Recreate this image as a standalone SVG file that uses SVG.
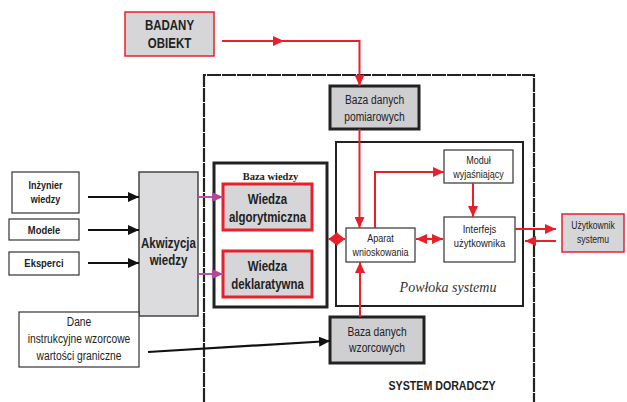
<svg xmlns="http://www.w3.org/2000/svg" width="627" height="402" viewBox="0 0 627 402">
  <defs>
    <style>
      .n { font-family: "Liberation Sans", Arial, sans-serif; fill: #222; text-anchor: middle; }
      .b { font-weight: bold; }
      .box { fill: #ffffff; stroke: #333; stroke-width: 1.2; }
      .redbox { fill: #d6d6d8; stroke: #e8202a; stroke-width: 1.5; }
      .thick { fill: #cfcfd2; stroke: #222; stroke-width: 3; }
      .red { fill: none; stroke: #e8202a; stroke-width: 2; }
      .blk { fill: none; stroke: #111; stroke-width: 2.2; }
      .mag { fill: none; stroke: #c050a8; stroke-width: 2; }
    </style>
    <marker id="ar" markerUnits="userSpaceOnUse" markerWidth="12" markerHeight="10" refX="11" refY="5" orient="auto">
      <path d="M0,0 L11,5 L0,10 Z" fill="#e8202a"/>
    </marker>
    <marker id="ars" markerUnits="userSpaceOnUse" markerWidth="12" markerHeight="10" refX="1" refY="5" orient="auto">
      <path d="M12,0 L1,5 L12,10 Z" fill="#e8202a"/>
    </marker>
    <marker id="arL" markerUnits="userSpaceOnUse" markerWidth="10" markerHeight="14" refX="9" refY="7" orient="auto">
      <path d="M0,0 L9,7 L0,14 Z" fill="#e8202a"/>
    </marker>
    <marker id="arLs" markerUnits="userSpaceOnUse" markerWidth="10" markerHeight="14" refX="1" refY="7" orient="auto">
      <path d="M10,0 L1,7 L10,14 Z" fill="#e8202a"/>
    </marker>
    <marker id="ab" markerUnits="userSpaceOnUse" markerWidth="12" markerHeight="10" refX="11" refY="5" orient="auto">
      <path d="M0,0 L11,5 L0,10 Z" fill="#111"/>
    </marker>
    <marker id="am" markerUnits="userSpaceOnUse" markerWidth="12" markerHeight="10" refX="11" refY="5" orient="auto">
      <path d="M0,0 L11,5 L0,10 Z" fill="#b04898"/>
    </marker>
  </defs>

  <rect width="627" height="402" fill="#ffffff"/>

  <!-- advisory system frame (open at the bottom) -->
  <g id="system-doradczy">
    <path d="M204,402 V75 H534 V402" fill="none" stroke="#222" stroke-width="2.2" stroke-dasharray="14,1"/>
    <text class="n b" transform="translate(442,390) scale(0.82,1)" font-size="13">SYSTEM DORADCZY</text>
  </g>

  <g id="badany-obiekt">
    <rect class="redbox" x="125" y="12" width="89" height="44"/>
    <text class="n b" transform="translate(169.5,30) scale(0.82,1)" font-size="14">BADANY</text>
    <text class="n b" transform="translate(169.5,48) scale(0.82,1)" font-size="14">OBIEKT</text>
  </g>

  <g id="baza-pomiarowych">
    <rect class="thick" x="330" y="86" width="89" height="43"/>
    <text class="n" transform="translate(374.5,104) scale(0.82,1)" font-size="12.5">Baza danych</text>
    <text class="n" transform="translate(374.5,121) scale(0.82,1)" font-size="12.5">pomiarowych</text>
  </g>

  <g id="inzynier-wiedzy">
    <rect class="box" x="12" y="172" width="67" height="41"/>
    <text class="n b" transform="translate(45.5,189) scale(0.82,1)" font-size="11">Inżynier</text>
    <text class="n b" transform="translate(45.5,203) scale(0.82,1)" font-size="11">wiedzy</text>
  </g>

  <g id="modele">
    <rect class="box" x="9" y="219" width="70" height="21"/>
    <text class="n b" transform="translate(44,234) scale(0.82,1)" font-size="11.5">Modele</text>
  </g>

  <g id="eksperci">
    <rect class="box" x="9" y="252" width="70" height="23"/>
    <text class="n b" transform="translate(44,267) scale(0.82,1)" font-size="11.5">Eksperci</text>
  </g>

  <g id="akwizycja-wiedzy">
    <rect x="139" y="172" width="59" height="144" fill="#dcdcde" stroke="#444" stroke-width="1.5"/>
    <text class="n b" transform="translate(168.5,248) scale(0.82,1)" font-size="14">Akwizycja</text>
    <text class="n b" transform="translate(168.5,265) scale(0.82,1)" font-size="14">wiedzy</text>
  </g>

  <g id="baza-wiedzy">
    <rect x="214" y="163" width="113" height="144" fill="#ffffff" stroke="#222" stroke-width="3"/>
    <text x="270.5" y="180" font-family="Liberation Serif, Times New Roman, serif" font-weight="bold" font-size="10.5" text-anchor="middle" fill="#222">Baza wiedzy</text>
  </g>

  <g id="wiedza-algorytmiczna">
    <rect x="223" y="184" width="89" height="46" fill="#d6d6d8" stroke="#e8202a" stroke-width="3"/>
    <text class="n b" transform="translate(267.5,204) scale(0.82,1)" font-size="14">Wiedza</text>
    <text class="n b" transform="translate(267.5,222) scale(0.82,1)" font-size="14">algorytmiczna</text>
  </g>

  <g id="wiedza-deklaratywna">
    <rect x="223" y="251" width="89" height="46" fill="#d6d6d8" stroke="#e8202a" stroke-width="3"/>
    <text class="n b" transform="translate(267.5,271) scale(0.82,1)" font-size="14">Wiedza</text>
    <text class="n b" transform="translate(267.5,289) scale(0.82,1)" font-size="14">deklaratywna</text>
  </g>

  <g id="powloka-systemu">
    <rect x="336" y="142" width="187" height="164" fill="none" stroke="#222" stroke-width="2"/>
    <text x="448" y="292" font-family="Liberation Serif, Times New Roman, serif" font-style="italic" font-size="14" text-anchor="middle" fill="#333">Powłoka systemu</text>
  </g>

  <g id="aparat-wnioskowania">
    <rect class="box" x="346" y="228" width="69" height="34"/>
    <text class="n" transform="translate(380.5,242) scale(0.82,1)" font-size="11">Aparat</text>
    <text class="n" transform="translate(380.5,256) scale(0.82,1)" font-size="11">wnioskowania</text>
  </g>

  <g id="modul-wyjasniajacy">
    <rect class="box" x="444" y="150" width="69" height="33"/>
    <text class="n" transform="translate(478.5,164) scale(0.82,1)" font-size="11">Moduł</text>
    <text class="n" transform="translate(478.5,178) scale(0.82,1)" font-size="11">wyjaśniający</text>
  </g>

  <g id="interfejs-uzytkownika">
    <rect class="box" x="444" y="217" width="71" height="45"/>
    <text class="n" transform="translate(479.5,233) scale(0.82,1)" font-size="11.5">Interfejs</text>
    <text class="n" transform="translate(479.5,247) scale(0.82,1)" font-size="11.5">użytkownika</text>
  </g>

  <g id="uzytkownik-systemu">
    <rect class="redbox" x="562" y="214" width="62" height="38"/>
    <text class="n" transform="translate(593,229) scale(0.82,1)" font-size="10.5">Użytkownik</text>
    <text class="n" transform="translate(593,243) scale(0.82,1)" font-size="10.5">systemu</text>
  </g>

  <g id="dane-wzorcowe">
    <rect class="box" x="19" y="312" width="120" height="55"/>
    <text class="n" transform="translate(79,326) scale(0.82,1)" font-size="12.5">Dane</text>
    <text class="n" transform="translate(79,343) scale(0.82,1)" font-size="12.5">instrukcyjne wzorcowe</text>
    <text class="n" transform="translate(79,360) scale(0.82,1)" font-size="12.5">wartości graniczne</text>
  </g>

  <g id="baza-wzorcowych">
    <rect class="thick" x="330" y="317" width="94" height="46"/>
    <text class="n" transform="translate(377,336) scale(0.82,1)" font-size="12.5">Baza danych</text>
    <text class="n" transform="translate(377,352) scale(0.82,1)" font-size="12.5">wzorcowych</text>
  </g>

  <!-- connectors -->
  <g id="connectors">
    <path class="red" d="M222,41 H284" marker-end="url(#ar)"/>
    <path class="red" d="M283,41 H359.5 V86" marker-end="url(#ar)"/>
    <path class="red" d="M359.5,129 V228" marker-end="url(#ar)"/>
    <path class="red" d="M360,317 V262" marker-end="url(#ar)"/>
    <path class="red" d="M328.5,239 H345" stroke-width="3" marker-start="url(#arLs)" marker-end="url(#arL)"/>
    <path class="red" d="M375,228 V172 H444" stroke-width="1.5" marker-end="url(#ar)"/>
    <path class="red" d="M473,183 V217" marker-end="url(#ar)"/>
    <path class="red" d="M416,239 H443" stroke-width="2.5" marker-start="url(#ars)" marker-end="url(#ar)"/>
    <path class="red" d="M515,229 H556" marker-end="url(#ar)"/>
    <path class="red" d="M556,241 H525" marker-end="url(#ar)"/>
    <path class="blk" d="M88,197 H139" marker-end="url(#ab)"/>
    <path class="blk" d="M88,230 H139" marker-end="url(#ab)"/>
    <path class="blk" d="M88,263 H139" marker-end="url(#ab)"/>
    <path class="mag" d="M198,197 H223" marker-end="url(#am)"/>
    <path class="mag" d="M198,274 H223" marker-end="url(#am)"/>
    <path class="blk" d="M148,352 L330,341" stroke-width="2" marker-end="url(#ab)"/>
  </g>
</svg>
